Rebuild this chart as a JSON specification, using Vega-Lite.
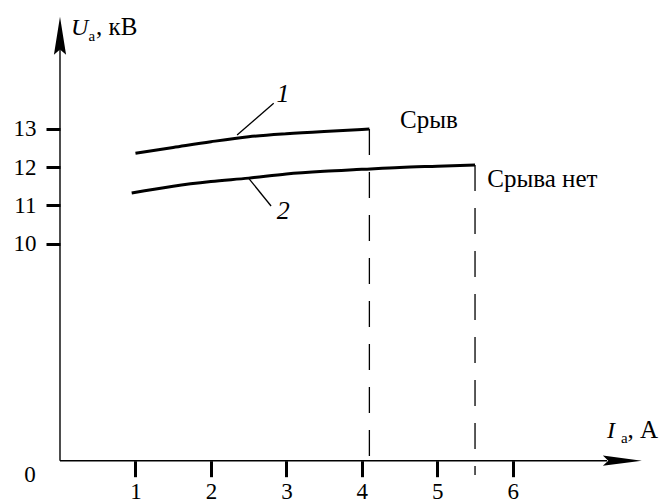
{
  "$schema": "https://vega.github.io/schema/vega-lite/v6.json",
  "width": 661,
  "height": 504,
  "autosize": {"type": "none"},
  "padding": 0,
  "background": "white",
  "config": {"view": {"stroke": null}, "font": "Liberation Serif"},
  "datasets": {
    "curves": [
      {"series": "1", "x": 1.0, "y": 12.36},
      {"series": "1", "x": 1.5, "y": 12.51},
      {"series": "1", "x": 2.0, "y": 12.66},
      {"series": "1", "x": 2.5, "y": 12.79},
      {"series": "1", "x": 3.0, "y": 12.87},
      {"series": "1", "x": 3.5, "y": 12.93},
      {"series": "1", "x": 4.0, "y": 12.98},
      {"series": "1", "x": 4.1, "y": 12.99},
      {"series": "2", "x": 0.95, "y": 11.32},
      {"series": "2", "x": 1.5, "y": 11.5},
      {"series": "2", "x": 2.0, "y": 11.62},
      {"series": "2", "x": 2.5, "y": 11.71},
      {"series": "2", "x": 3.0, "y": 11.82},
      {"series": "2", "x": 3.5, "y": 11.89},
      {"series": "2", "x": 4.0, "y": 11.94},
      {"series": "2", "x": 4.5, "y": 11.99},
      {"series": "2", "x": 5.0, "y": 12.02},
      {"series": "2", "x": 5.5, "y": 12.05}
    ],
    "dropLines": [
      {"x": 4.1, "y": 12.99, "y2": 4.334},
      {"x": 5.5, "y": 12.05, "y2": 3.96}
    ],
    "leaders": [
      {"x": 2.347, "y": 12.836, "x2": 2.832, "y2": 13.663},
      {"x": 2.501, "y": 11.705, "x2": 2.797, "y2": 10.982}
    ],
    "axisLines": [
      {"x": 0, "y": 4.334, "x2": 0, "y2": 15.2},
      {"x": 0, "y": 4.334, "x2": 7.25, "y2": 4.334}
    ],
    "arrowUp": [{"x": 0, "y": 15.424}],
    "arrowRight": [{"x": 7.452, "y": 4.334}],
    "notes": [
      {"x": 4.506, "y": 13.01, "text": "Срыв"},
      {"x": 5.663, "y": 11.47, "text": "Срыва нет"},
      {"x": 0.477, "y": 15.446, "text": ", кВ"},
      {"x": 7.521, "y": 4.919, "text": ", А"}
    ],
    "origin": [{"x": -0.3976, "y": 3.778, "text": "0"}],
    "italicNotes": [
      {"x": 0.146, "y": 15.446, "text": "U"},
      {"x": 7.249, "y": 4.919, "text": "I"}
    ],
    "curveNumbers": [
      {"x": 2.955, "y": 13.705, "text": "1"},
      {"x": 2.959, "y": 10.643, "text": "2"}
    ],
    "subscripts": [
      {"x": 0.377, "y": 15.297, "text": "а"},
      {"x": 7.434, "y": 4.796, "text": "а"}
    ]
  },
  "encoding": {
    "x": {
      "field": "x",
      "type": "quantitative",
      "scale": {"domain": [-0.7951, 7.9645], "nice": false, "zero": false},
      "axis": {
        "orient": "bottom",
        "offset": -43.3,
        "values": [1, 2, 3, 4, 5, 6],
        "domain": false,
        "grid": false,
        "title": null,
        "tickSize": 16,
        "tickWidth": 3,
        "tickColor": "black",
        "labelPadding": 4,
        "labelFont": "Liberation Serif",
        "labelFontSize": 23,
        "labelColor": "black"
      }
    },
    "y": {
      "field": "y",
      "type": "quantitative",
      "scale": {"domain": [3.203, 16.36], "nice": false, "zero": false},
      "axis": {
        "orient": "left",
        "offset": -60,
        "values": [10, 11, 12, 13],
        "domain": false,
        "grid": false,
        "title": null,
        "tickSize": 14,
        "tickWidth": 3,
        "tickColor": "black",
        "labelPadding": 10,
        "labelFont": "Liberation Serif",
        "labelFontSize": 23,
        "labelColor": "black"
      }
    }
  },
  "layer": [
    {
      "data": {"name": "axisLines"},
      "mark": {"type": "rule", "color": "black", "strokeWidth": 1.4},
      "encoding": {"x2": {"field": "x2"}, "y2": {"field": "y2"}}
    },
    {
      "data": {"name": "arrowUp"},
      "mark": {"type": "point", "filled": true, "color": "black", "opacity": 1, "size": 1444, "shape": "M0,-1L-0.32,1L0,0.72L0.32,1Z"}
    },
    {
      "data": {"name": "arrowRight"},
      "mark": {"type": "point", "filled": true, "color": "black", "opacity": 1, "size": 1521, "shape": "M1,0L-1,-0.26L-0.72,0L-1,0.26Z"}
    },
    {
      "data": {"name": "dropLines"},
      "mark": {"type": "rule", "color": "black", "strokeWidth": 1.3, "strokeDash": [26, 17]},
      "encoding": {"y2": {"field": "y2"}}
    },
    {
      "data": {"name": "curves"},
      "mark": {"type": "line", "color": "black", "strokeWidth": 3, "interpolate": "monotone"},
      "encoding": {"detail": {"field": "series", "type": "nominal"}}
    },
    {
      "data": {"name": "leaders"},
      "mark": {"type": "rule", "color": "black", "strokeWidth": 1.3},
      "encoding": {"x2": {"field": "x2"}, "y2": {"field": "y2"}}
    },
    {
      "data": {"name": "notes"},
      "mark": {"type": "text", "align": "left", "baseline": "alphabetic", "font": "Liberation Serif", "fontSize": 25, "color": "black"},
      "encoding": {"text": {"field": "text"}}
    },
    {
      "data": {"name": "origin"},
      "mark": {"type": "text", "align": "center", "baseline": "alphabetic", "font": "Liberation Serif", "fontSize": 23, "color": "black"},
      "encoding": {"text": {"field": "text"}}
    },
    {
      "data": {"name": "italicNotes"},
      "mark": {"type": "text", "align": "left", "baseline": "alphabetic", "font": "Liberation Serif", "fontStyle": "italic", "fontSize": 24, "color": "black"},
      "encoding": {"text": {"field": "text"}}
    },
    {
      "data": {"name": "curveNumbers"},
      "mark": {"type": "text", "align": "center", "baseline": "alphabetic", "font": "Liberation Serif", "fontStyle": "italic", "fontSize": 26, "color": "black"},
      "encoding": {"text": {"field": "text"}}
    },
    {
      "data": {"name": "subscripts"},
      "mark": {"type": "text", "align": "left", "baseline": "alphabetic", "font": "Liberation Serif", "fontSize": 15, "color": "black"},
      "encoding": {"text": {"field": "text"}}
    }
  ]
}
